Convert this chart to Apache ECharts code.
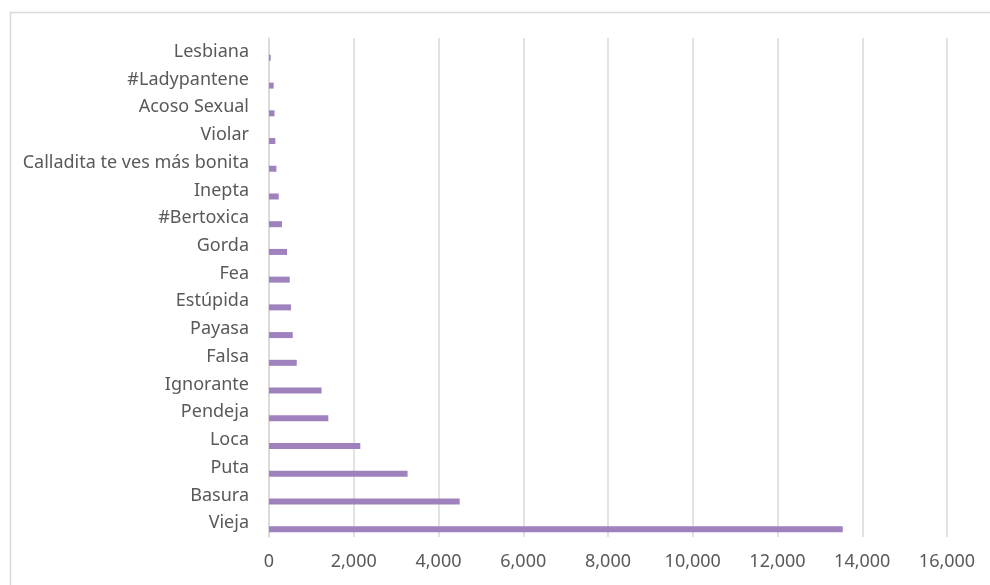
<!DOCTYPE html>
<html>
<head>
<meta charset="utf-8">
<script src="https://cdn.jsdelivr.net/npm/echarts@6/dist/echarts.min.js"></script>
<style>
  html, body { margin: 0; padding: 0; background: #ffffff; }
  #chart { width: 990px; height: 585px; }
</style>
</head>
<body>
<div id="chart"></div>
<script>
// Términos ofensivos más frecuentes (de abajo hacia arriba)
const categories = [
  'Vieja', 'Basura', 'Puta', 'Loca', 'Pendeja', 'Ignorante', 'Falsa',
  'Payasa', 'Estúpida', 'Fea', 'Gorda', '#Bertoxica', 'Inepta',
  'Calladita te ves más bonita', 'Violar', 'Acoso Sexual', '#Ladypantene', 'Lesbiana'
];
const counts = [
  13540, 4500, 3270, 2155, 1400, 1240, 655,
  560, 520, 490, 425, 305, 230,
  175, 150, 130, 110, 40
];
const emptySeries = categories.map(() => null);

const FONT = '"Noto Sans", "Open Sans", sans-serif';
const TEXT = '#595959';
const GRIDLINE = '#d9d9d9';

const chart = echarts.init(document.getElementById('chart'), null, { renderer: 'canvas' });
chart.setOption({
  animation: false,
  backgroundColor: '#ffffff',
  graphic: [{
    type: 'rect',
    shape: { x: 10.5, y: 12.5, width: 1000, height: 600 },
    style: { fill: 'none', stroke: GRIDLINE, lineWidth: 1.5 },
    silent: true
  }],
  grid: { left: 269, right: 43, top: 38, bottom: 48, containLabel: false },
  xAxis: {
    type: 'value',
    min: 0,
    max: 16000,
    interval: 2000,
    axisLine: { show: false },
    axisTick: { show: false },
    splitLine: { show: true, lineStyle: { color: GRIDLINE, width: 1.5 } },
    axisLabel: {
      color: TEXT, fontFamily: FONT, fontSize: 18, margin: 16,
      formatter: v => v.toLocaleString('en-US')
    }
  },
  yAxis: {
    type: 'category',
    data: categories,
    axisLine: { show: true, lineStyle: { color: GRIDLINE, width: 1.5 } },
    axisTick: { show: false },
    axisLabel: { color: TEXT, fontFamily: FONT, fontSize: 18, margin: 20 }
  },
  series: [
    {
      type: 'bar',
      data: emptySeries,
      barWidth: 6,
      barGap: '100%',
      silent: true
    },
    {
      type: 'bar',
      data: counts,
      barWidth: 6,
      barGap: '100%',
      itemStyle: { color: '#9f81bd' }
    }
  ]
});
</script>
</body>
</html>
